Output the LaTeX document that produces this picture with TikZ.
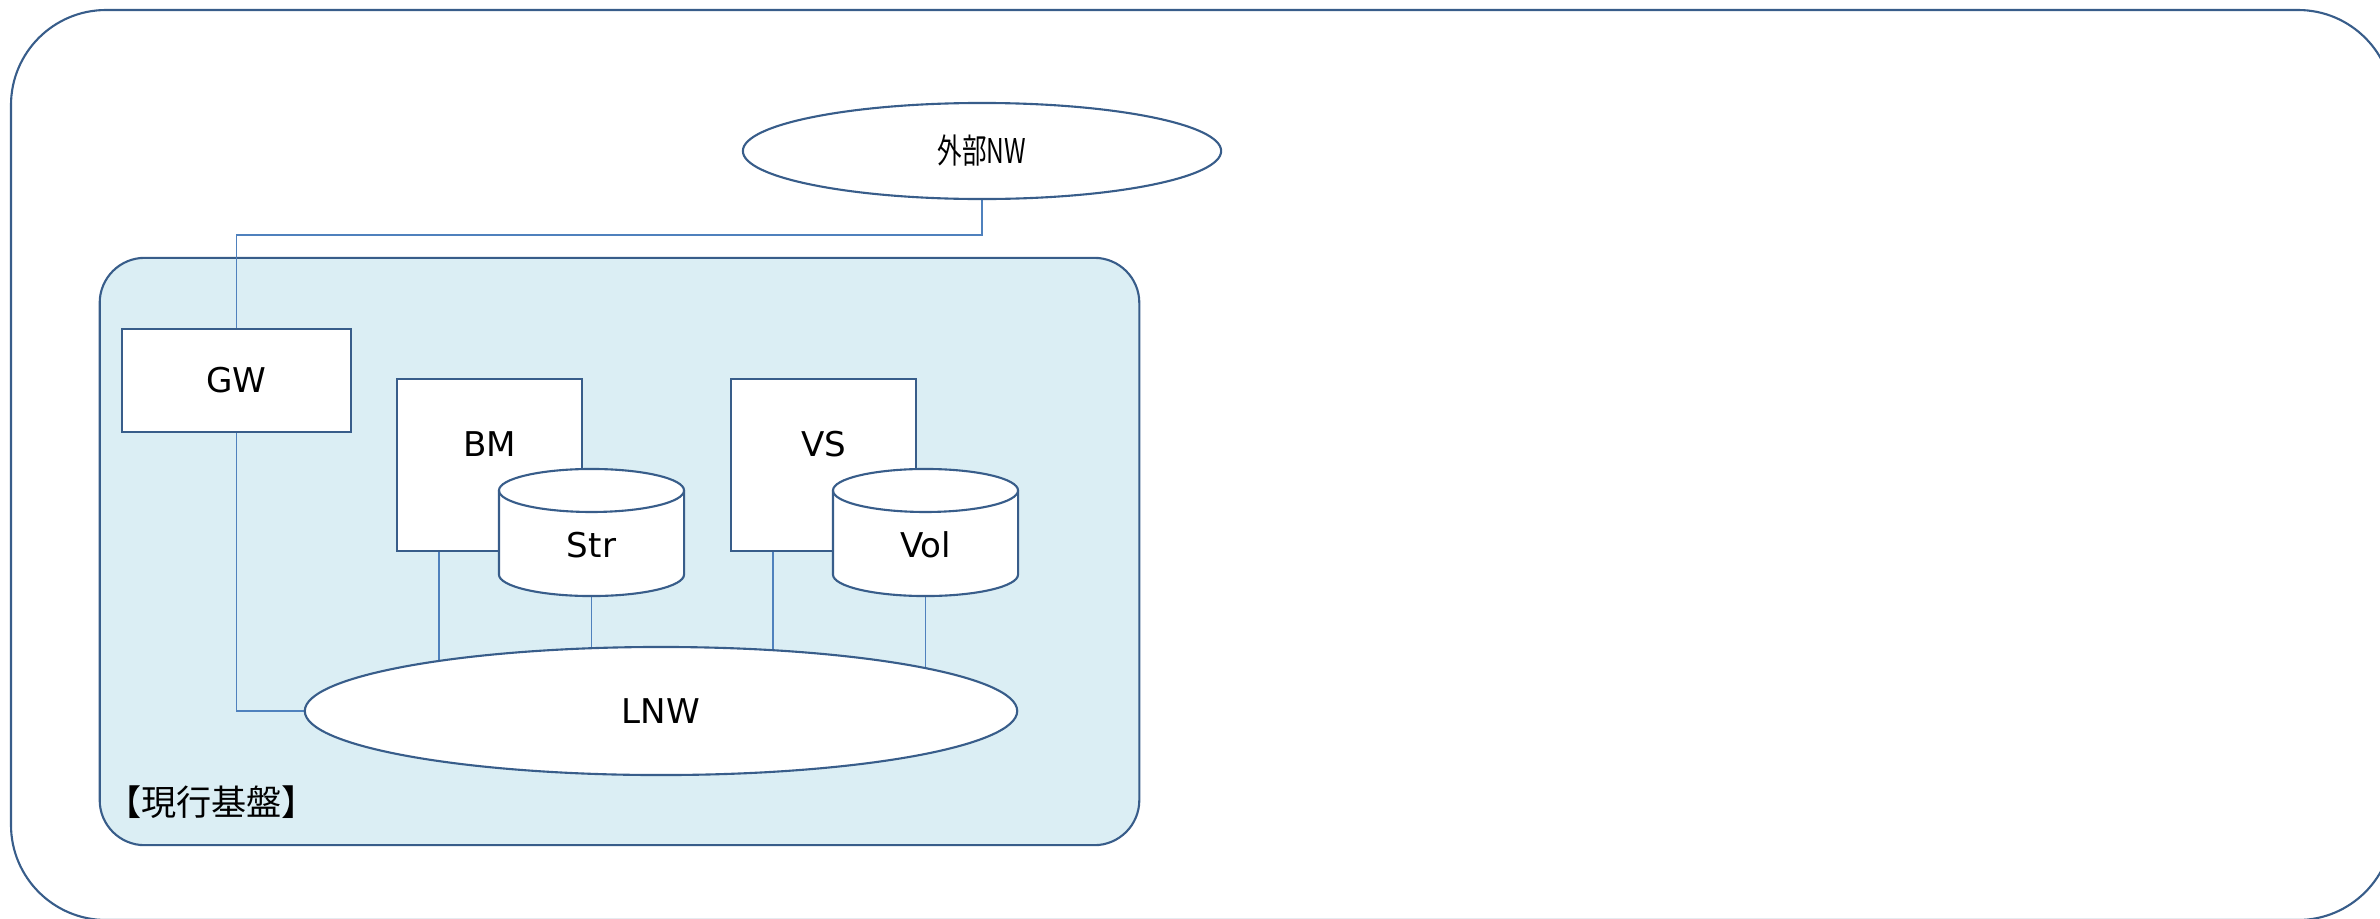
\documentclass[tikz,border=0pt]{standalone}
\usepackage{fontspec}
\setmainfont{DejaVu Sans}
\newfontfamily\cjk{Noto Sans CJK JP}[RawFeature=+palt]
\newfontfamily\cjknarrow{Noto Sans CJK JP}[FakeStretch=0.72]
\usetikzlibrary{shapes.geometric}

\definecolor{edgeblue}{HTML}{385D8A}
\definecolor{linkblue}{HTML}{4F81BD}
\definecolor{basefill}{HTML}{DBEEF4}

\pgfdeclarelayer{back}
\pgfdeclarelayer{mid}
\pgfsetlayers{back,mid,main}

\tikzset{
  box/.style={draw=edgeblue, line width=0.6pt, fill=white, inner sep=0pt,
    font=\fontsize{9.7pt}{11pt}\selectfont},
  tag/.style={font=\fontsize{9.7pt}{11pt}\selectfont, inner sep=0pt},
  srvbox/.style={box, rectangle, minimum width=1.85cm, minimum height=1.72cm},
  diskbox/.style={rectangle, inner sep=0pt, outer sep=0pt, minimum width=1.85cm, minimum height=1.27cm},
  diskline/.style={draw=edgeblue, line width=0.6pt, fill=white},
  net/.style={box, ellipse},
  link/.style={draw=linkblue, line width=0.45pt},
}

% disk outline round a diskbox node
\newcommand{\drawdisk}[1]{%
  \draw[diskline] ([yshift=-0.215cm]#1.north west) -- ([yshift=0.215cm]#1.south west)
    arc[start angle=180, end angle=360, x radius=0.925cm, y radius=0.215cm]
    -- ([yshift=-0.215cm]#1.north east)
    arc[start angle=0, end angle=180, x radius=0.925cm, y radius=0.215cm] -- cycle;
  \draw[diskline, fill=none] ([yshift=-0.215cm]#1.north west)
    arc[start angle=180, end angle=360, x radius=0.925cm, y radius=0.215cm];
}

\begin{document}
\begin{tikzpicture}[x=0.01cm, y=-0.01cm]
    \useasboundingbox (0,0) rectangle (2380,918);
    \clip (0,0) rectangle (2380,918);

    % Frame and current platform
    \begin{pgfonlayer}{back}
        \draw[edgeblue, line width=0.6pt, rounded corners=0.95cm] (11,10) rectangle (2393,920);
        \node[draw=edgeblue, line width=0.6pt, fill=basefill, rounded corners=0.45cm,
              minimum width=10.39cm, minimum height=5.87cm, inner sep=0pt] (base) at (619.5,551.5) {};
    \end{pgfonlayer}
    \node[anchor=west, inner sep=0pt, font=\cjk\fontsize{10pt}{12pt}\selectfont] (basename) at (123,802) {【現行基盤】};

    % Networks
    \node[net, minimum width=4.78cm, minimum height=0.96cm] (extnw) at (982,151) {\cjknarrow 外部NW};
    \node[net, minimum width=7.12cm, minimum height=1.28cm] (lnw) at (661,711) {LNW};

    % Gateway and servers
    \node[box, rectangle, minimum width=2.29cm, minimum height=1.03cm] (gw) at (236.5,380.5) {GW};
    \node[srvbox, label={[tag, yshift=0.21cm]center:BM}] (bm) at (489.5,465) {};
    \node[srvbox, label={[tag, yshift=0.21cm]center:VS}] (vs) at (823.5,465) {};

    % Disks
    \node[diskbox] (str) at (591.5,532.5) {};
    \node[diskbox] (vol) at (925.5,532.5) {};
    \drawdisk{str}
    \drawdisk{vol}
    \node[tag] (strtext) at ([yshift=-0.125cm]str.center) {Str};
    \node[tag] (voltext) at ([yshift=-0.125cm]vol.center) {Vol};

    % Links
    \begin{pgfonlayer}{mid}
        \draw[link, line width=0.55pt] (extnw.south) -- ++(0,35) -| (gw.north);
        \draw[link] (gw.south) |- (lnw.west);
        \draw[link] ([xshift=-0.505cm]bm.south) -- ([xshift=-0.505cm]bm.south |- lnw.center);
        \draw[link] ([xshift=-0.505cm]vs.south) -- ([xshift=-0.505cm]vs.south |- lnw.center);
        \draw[link] (str.south) -- (str.south |- lnw.center);
        \draw[link] (vol.south) -- (vol.south |- lnw.center);
    \end{pgfonlayer}

\end{tikzpicture}
\end{document}
